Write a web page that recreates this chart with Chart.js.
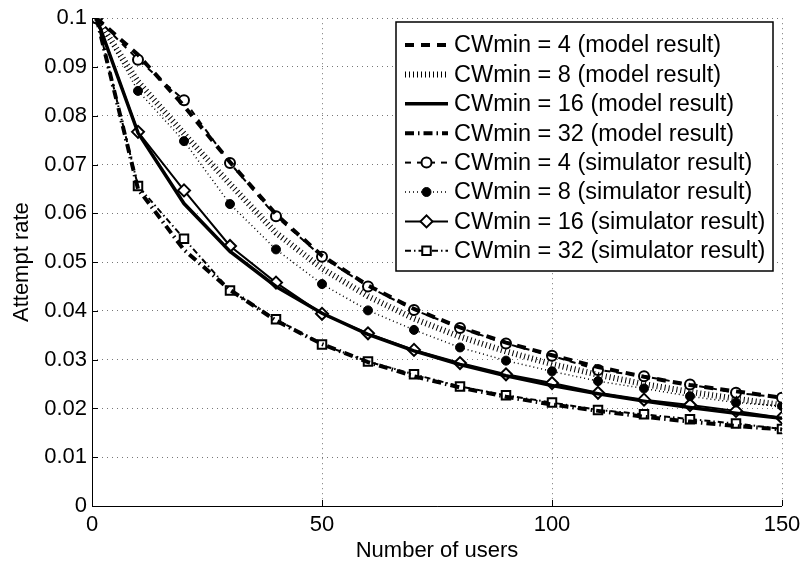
<!DOCTYPE html>
<html>
<head>
<meta charset="utf-8">
<script src="https://cdn.jsdelivr.net/npm/chart.js@4.4.0/dist/chart.umd.min.js"></script>
<style>
  html, body { margin: 0; padding: 0; background: #fff; }
  #wrap { width: 802px; height: 564px; }
</style>
</head>
<body>
<div id="wrap"><canvas id="myChart" width="802" height="564"></canvas></div>
<script>
// number of users (x values)
const users = [1, 10, 20, 30, 40, 50, 60, 70, 80, 90, 100, 110, 120, 130, 140, 150];

// model results
const modelCW4  = [0.1, 0.0925, 0.0820, 0.0705, 0.0598, 0.0513, 0.0452, 0.0404, 0.0366, 0.0335, 0.0309, 0.0285, 0.0265, 0.0248, 0.0235, 0.0222];
const modelCW8  = [0.1, 0.0870, 0.0763, 0.0660, 0.0560, 0.0487, 0.0430, 0.0384, 0.0347, 0.0317, 0.0291, 0.0269, 0.0250, 0.0234, 0.0220, 0.0207];
const modelCW16 = [0.1, 0.0765, 0.0620, 0.0522, 0.0450, 0.0395, 0.0352, 0.0318, 0.0290, 0.0267, 0.0247, 0.0230, 0.0215, 0.0202, 0.0190, 0.0180];
const modelCW32 = [0.1, 0.0650, 0.0525, 0.0443, 0.0380, 0.0332, 0.0295, 0.0266, 0.0243, 0.0224, 0.0208, 0.0195, 0.0183, 0.0173, 0.0164, 0.0157];

// simulator results
const simCW4  = [0.1, 0.0915, 0.0832, 0.0703, 0.0594, 0.0511, 0.0450, 0.0402, 0.0365, 0.0333, 0.0308, 0.0279, 0.0266, 0.0249, 0.0232, 0.0222];
const simCW8  = [0.1, 0.0851, 0.0748, 0.0619, 0.0526, 0.0455, 0.0401, 0.0361, 0.0325, 0.0298, 0.0276, 0.0256, 0.0241, 0.0225, 0.0212, 0.0205];
const simCW16 = [0.1, 0.0767, 0.0647, 0.0533, 0.0458, 0.0394, 0.0354, 0.0320, 0.0293, 0.0270, 0.0252, 0.0232, 0.0218, 0.0207, 0.0195, 0.0181];
const simCW32 = [0.1, 0.0656, 0.0548, 0.0442, 0.0383, 0.0331, 0.0296, 0.0270, 0.0245, 0.0227, 0.0212, 0.0197, 0.0188, 0.0178, 0.0169, 0.0158];

// tick labels
const xTickLabels = ['0', '50', '100', '150'];
const yTickLabels = ['0', '0.01', '0.02', '0.03', '0.04', '0.05', '0.06', '0.07', '0.08', '0.09', '0.1'];

const FONT = 'Liberation Sans, Arial, Helvetica, sans-serif';

function pts(arr) {
    return arr.map((v, i) => ({ x: users[i], y: v }));
}

function series(label, arr, dash, width, marker) {
    const ds = {
        label: label,
        data: pts(arr),
        borderColor: '#000',
        borderWidth: width,
        borderDash: dash,
        borderCapStyle: 'butt',
        tension: 0,
        fill: false,
        pointRadius: 0,
        pointHoverRadius: 0
    };
    if (marker) {
        ds.pointStyle = marker.style;
        ds.pointRadius = marker.r;
        ds.pointBorderWidth = marker.bw;
        ds.pointBorderColor = '#000';
        ds.pointBackgroundColor = marker.fill;
    }
    return ds;
}

// legend drawn inside the plot, like the original figure
const boxLegend = {
    id: 'boxLegend',
    afterDraw(c) {
        const ctx = c.ctx;
        const x0 = 396, y0 = 22, w = 377, h = 249;
        ctx.save();
        ctx.fillStyle = '#fff';
        ctx.fillRect(x0, y0, w, h);
        ctx.strokeStyle = '#000';
        ctx.lineWidth = 1.5;
        ctx.setLineDash([]);
        ctx.strokeRect(x0, y0, w, h);
        ctx.font = '23.5px ' + FONT;
        ctx.textBaseline = 'middle';
        ctx.fillStyle = '#000';
        c.data.datasets.forEach((ds, i) => {
            const y = 45 + i * 29.4;
            ctx.save();
            ctx.strokeStyle = ds.borderColor;
            ctx.lineWidth = ds.borderWidth;
            ctx.lineCap = 'butt';
            ctx.setLineDash(ds.borderDash || []);
            ctx.beginPath();
            ctx.moveTo(405, y);
            ctx.lineTo(448, y);
            ctx.stroke();
            ctx.restore();
            if (ds.pointRadius > 0) {
                ctx.save();
                ctx.setLineDash([]);
                ctx.strokeStyle = '#000';
                ctx.fillStyle = ds.pointBackgroundColor;
                ctx.lineWidth = ds.pointBorderWidth;
                Chart.helpers.drawPoint(ctx, { pointStyle: ds.pointStyle, radius: ds.pointRadius, borderWidth: ds.pointBorderWidth, rotation: 0 }, 426.5, y);
                ctx.restore();
            }
            ctx.fillText(ds.label, 454, y + 1);
        });
        ctx.restore();
    }
};

// axis lines with inward ticks (MATLAB look)
const axisTicks = {
    id: 'axisTicks',
    afterDatasetsDraw(c) {
        const ctx = c.ctx;
        const a = c.chartArea;
        const xs = c.scales.x, ys = c.scales.y;
        ctx.save();
        ctx.strokeStyle = '#000';
        ctx.lineWidth = 1;
        ctx.setLineDash([]);
        ctx.beginPath();
        ctx.moveTo(a.left + 0.5, a.top);
        ctx.lineTo(a.left + 0.5, a.bottom + 0.5);
        ctx.lineTo(a.right, a.bottom + 0.5);
        ys.ticks.forEach(t => {
            const y = Math.round(ys.getPixelForValue(t.value)) + 0.5;
            ctx.moveTo(a.left, y);
            ctx.lineTo(a.left + 6, y);
        });
        xs.ticks.forEach(t => {
            const x = Math.round(xs.getPixelForValue(t.value)) + 0.5;
            ctx.moveTo(x, a.bottom);
            ctx.lineTo(x, a.bottom - 6);
        });
        ctx.stroke();
        ctx.restore();
    }
};

const ctx = document.getElementById('myChart').getContext('2d');
const chart = new Chart(ctx, {
    type: 'line',
    data: {
        datasets: [
            series('CWmin = 4 (model result)', modelCW4, [9, 7], 4),
            series('CWmin = 8 (model result)', modelCW8, [1, 3], 6),
            series('CWmin = 16 (model result)', modelCW16, [], 3.5),
            series('CWmin = 32 (model result)', modelCW32, [9, 4, 1.5, 4], 4),
            series('CWmin = 4 (simulator result)', simCW4, [6, 6], 2, { style: 'circle', r: 5, bw: 2, fill: '#fff' }),
            series('CWmin = 8 (simulator result)', simCW8, [1, 3], 1.5, { style: 'circle', r: 4.5, bw: 1, fill: '#000' }),
            series('CWmin = 16 (simulator result)', simCW16, [], 2, { style: 'rectRot', r: 6, bw: 2, fill: '#fff' }),
            series('CWmin = 32 (simulator result)', simCW32, [6, 3, 1.5, 3], 2, { style: 'rect', r: 6, bw: 2, fill: '#fff' })
        ]
    },
    options: {
        responsive: false,
        animation: false,
        events: [],
        layout: { padding: { top: 13, right: 20, left: 0, bottom: 0 } },
        plugins: {
            legend: { display: false },
            tooltip: { enabled: false }
        },
        scales: {
            x: {
                type: 'linear',
                min: 0,
                max: 150,
                afterFit(s) {
                    s.height = 58;
                    s.paddingLeft = 0;
                    s.paddingRight = 0;
                },
                ticks: {
                    stepSize: 50,
                    padding: 6,
                    color: '#000',
                    font: { family: FONT, size: 22 },
                    maxRotation: 0,
                    callback: (v, i) => xTickLabels[i]
                },
                grid: { color: '#777', lineWidth: 1, drawTicks: false },
                border: { display: false, dash: [1, 4] },
                title: {
                    display: true,
                    text: 'Number of users',
                    color: '#000',
                    font: { family: FONT, size: 22 },
                    padding: { top: 0, bottom: 0 }
                }
            },
            y: {
                min: 0,
                max: 0.1,
                afterFit(s) { s.width = 92; },
                ticks: {
                    stepSize: 0.01,
                    padding: 5,
                    color: '#000',
                    font: { family: FONT, size: 22 },
                    callback: (v, i) => yTickLabels[i]
                },
                grid: { color: '#777', lineWidth: 1, drawTicks: false },
                border: { display: false, dash: [1, 4] },
                title: {
                    display: true,
                    text: 'Attempt rate',
                    color: '#000',
                    font: { family: FONT, size: 22 },
                    padding: { top: 9, bottom: 0 }
                }
            }
        }
    },
    plugins: [axisTicks, boxLegend]
});
</script>
</body>
</html>
